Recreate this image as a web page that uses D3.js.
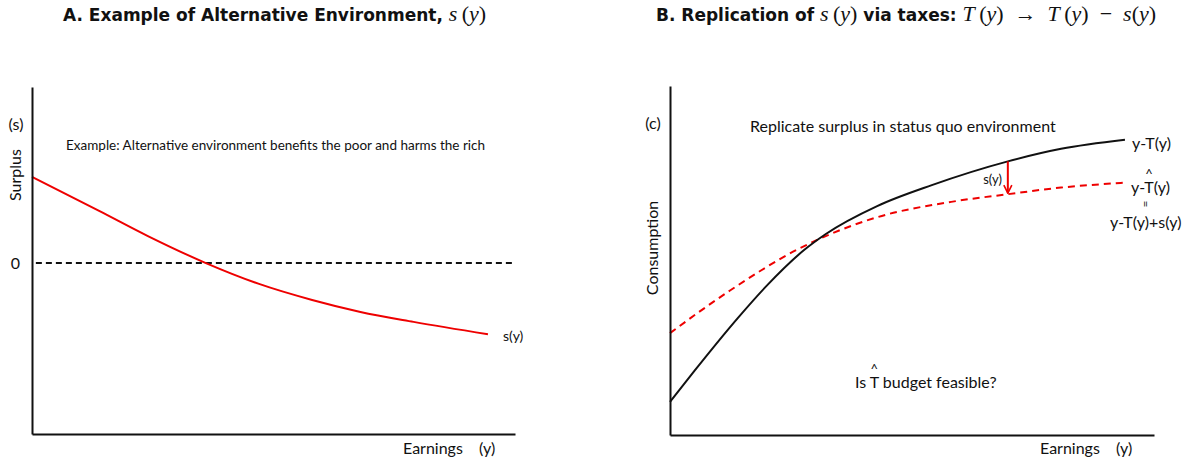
<!DOCTYPE html>
<html>
<head>
<meta charset="utf-8">
<script src="https://cdn.jsdelivr.net/npm/d3@7"></script>
<style>
  body { margin: 0; background: #fff; }
  text { font-family: Lato, "Open Sans", sans-serif; fill: #111; }
</style>
</head>
<body>
<script>
// Panel A: surplus of the alternative environment, s(y)
const earningsA = [0, 14, 24, 36, 47, 58, 68, 79, 94.4];
const surplusA = [2.52, 1.52, 0.79, 0, -0.61, -1.08, -1.43, -1.72, -2.08];

// Panel B: status quo consumption y-T(y) and replicated y-That(y)
const earningsB = [0, 5, 14, 20, 27.7, 32.2, 42.8, 54.1, 69.8, 80.8, 94];
const consumptionB = [9.5, 18.3, 33.5, 42.8, 53.0, 57.6, 65.6, 71.6, 78.4, 82.0, 84.6];
const earningsHat = [0, 12.4, 26.4, 42.8, 58.1, 69.8, 80.8, 94];
const consumptionHat = [29.2, 41.4, 53.2, 62.4, 66.8, 69.0, 70.9, 72.3];
const arrowAt = 69.8;

const W = 1194, H = 462;
const svg = d3.select("body").append("svg")
  .attr("width", W)
  .attr("height", H);

svg.append("defs").append("marker")
  .attr("id", "head")
  .attr("viewBox", "0 0 10 10")
  .attr("refX", 9).attr("refY", 5)
  .attr("markerWidth", 5).attr("markerHeight", 5)
  .attr("markerUnits", "strokeWidth")
  .attr("orient", "auto")
  .append("path")
  .attr("d", "M1,1 L9,5 L1,9")
  .attr("fill", "none")
  .attr("stroke", "#e00")
  .attr("stroke-width", 1.6);

// title with bold text and math parts
function title(x, y, parts) {
  const t = svg.append("text").attr("x", x).attr("y", y);
  parts.forEach(p => {
    const s = t.append("tspan").text(p[0]);
    if (p[1] == "b") {
      s.style("font-family", "'DejaVu Sans', sans-serif").style("font-weight", "bold").style("font-size", "17px");
    } else {
      s.style("font-family", "'Liberation Serif', 'DejaVu Serif', serif").style("font-size", "22px")
        .style("font-style", p[1] == "i" ? "italic" : "normal");
    }
  });
}

title(63, 21, [["A. Example of Alternative Environment, ", "b"], ["s", "i"], ["\u2009(", "r"], ["y", "i"], [")", "r"]]);
title(656, 21, [["B. Replication of ", "b"], ["s", "i"], ["\u2009(", "r"], ["y", "i"], [")", "r"],
  [" via taxes: ", "b"], ["T", "i"], ["\u2009(", "r"], ["y", "i"], [")\u2002\u2192\u2002", "r"],
  ["T", "i"], ["\u2009(", "r"], ["y", "i"], [")\u2002\u2212\u2002", "r"], ["s", "i"], ["(", "r"], ["y", "i"], [")", "r"]]);

// ---------- Panel A ----------
const xA = d3.scaleLinear().domain([0, 100]).range([32, 515]);
const yA = d3.scaleLinear().domain([-5, 5.15]).range([434, 87]);
const gA = svg.append("g");

gA.append("line")
  .attr("x1", xA(0.8)).attr("x2", xA(100))
  .attr("y1", yA(0)).attr("y2", yA(0))
  .attr("stroke", "#111").attr("stroke-width", 2)
  .attr("stroke-dasharray", "6,4");

const lineA = d3.line().x(d => xA(d[0])).y(d => yA(d[1])).curve(d3.curveMonotoneX);
gA.append("path")
  .datum(d3.zip(earningsA, surplusA))
  .attr("d", lineA)
  .attr("fill", "none")
  .attr("stroke", "#e00")
  .attr("stroke-width", 2);

const axA = gA.append("g").attr("transform", "translate(" + xA(0) + ",0)")
  .call(d3.axisLeft(yA).tickValues([0]).tickSize(0).tickPadding(12));
axA.select(".domain").attr("stroke", "#111").attr("stroke-width", 2);
axA.selectAll(".tick text").style("font-family", "Lato, sans-serif").style("font-size", "16px").attr("fill", "#111");

const axAx = gA.append("g").attr("transform", "translate(0," + yA.range()[0] + ")")
  .call(d3.axisBottom(xA).tickValues([]).tickSizeOuter(0));
axAx.select(".domain").attr("stroke", "#111").attr("stroke-width", 2);

gA.append("text").attr("x", 16).attr("y", 130).attr("text-anchor", "middle")
  .style("font-size", "16px").text("(s)");
gA.append("text").attr("transform", "translate(21,175) rotate(-90)").attr("text-anchor", "middle")
  .style("font-size", "16px").text("Surplus");
gA.append("text").attr("x", 66).attr("y", 150)
  .style("font-size", "13.5px").text("Example: Alternative environment benefits the poor and harms the rich");
gA.append("text").attr("x", 503).attr("y", 341)
  .style("font-size", "14px").text("s(y)");
gA.append("text").attr("x", 403).attr("y", 454)
  .style("font-size", "16px").text("Earnings\u2003 (y)");

// ---------- Panel B ----------
const xB = d3.scaleLinear().domain([0, 100]).range([670, 1154]);
const yB = d3.scaleLinear().domain([0, 100]).range([435, 86]);
const gB = svg.append("g");

const lineB = d3.line().x(d => xB(d[0])).y(d => yB(d[1])).curve(d3.curveMonotoneX);
gB.append("path")
  .datum(d3.zip(earningsHat, consumptionHat))
  .attr("d", lineB)
  .attr("fill", "none")
  .attr("stroke", "#e00")
  .attr("stroke-width", 2)
  .attr("stroke-dasharray", "7,5");
gB.append("path")
  .datum(d3.zip(earningsB, consumptionB))
  .attr("d", lineB)
  .attr("fill", "none")
  .attr("stroke", "#111")
  .attr("stroke-width", 2);

const iTop = earningsB.indexOf(arrowAt), iBot = earningsHat.indexOf(arrowAt);
gB.append("line")
  .attr("x1", xB(arrowAt)).attr("x2", xB(arrowAt))
  .attr("y1", yB(consumptionB[iTop])).attr("y2", yB(consumptionHat[iBot]) - 1)
  .attr("stroke", "#e00").attr("stroke-width", 2)
  .attr("marker-end", "url(#head)");

const axB = gB.append("g").attr("transform", "translate(" + xB(0) + ",0)")
  .call(d3.axisLeft(yB).tickValues([]).tickSizeOuter(0));
axB.select(".domain").attr("stroke", "#111").attr("stroke-width", 2);
const axBx = gB.append("g").attr("transform", "translate(0," + yB.range()[0] + ")")
  .call(d3.axisBottom(xB).tickValues([]).tickSizeOuter(0));
axBx.select(".domain").attr("stroke", "#111").attr("stroke-width", 2);

gB.append("text").attr("x", 653).attr("y", 129).attr("text-anchor", "middle")
  .style("font-size", "16px").text("(c)");
gB.append("text").attr("transform", "translate(658,248) rotate(-90)").attr("text-anchor", "middle")
  .style("font-size", "16px").text("Consumption");
gB.append("text").attr("x", 750).attr("y", 132)
  .style("font-size", "16px").text("Replicate surplus in status quo environment");
gB.append("text").attr("x", 1132).attr("y", 149)
  .style("font-size", "16px").text("y-T(y)");
gB.append("text").attr("x", 1002).attr("y", 184).attr("text-anchor", "end")
  .style("font-size", "13px").text("s(y)");
gB.append("text").attr("x", 1040).attr("y", 454)
  .style("font-size", "16px").text("Earnings\u2003 (y)");

// label with a hat placed over the letter T
function hatLabel(x, y, str, idx) {
  const t = gB.append("text").attr("x", x).attr("y", y).style("font-size", "16px").text(str);
  const node = t.node();
  const x0 = x + node.getSubStringLength(0, idx);
  const w = node.getSubStringLength(idx, 1);
  gB.append("text").attr("x", x0 + w / 2).attr("y", y - 14).attr("text-anchor", "middle")
    .style("font-size", "13px").text("^");
}
hatLabel(1131, 193, "y-T(y)", 2);
gB.append("text").attr("transform", "translate(1146,204) rotate(90)").attr("text-anchor", "middle")
  .attr("dy", "0.35em").style("font-size", "12px").text("=");
gB.append("text").attr("x", 1110).attr("y", 228)
  .style("font-size", "16px").text("y-T(y)+s(y)");
hatLabel(855, 388, "Is T budget feasible?", 3);
</script>
</body>
</html>
